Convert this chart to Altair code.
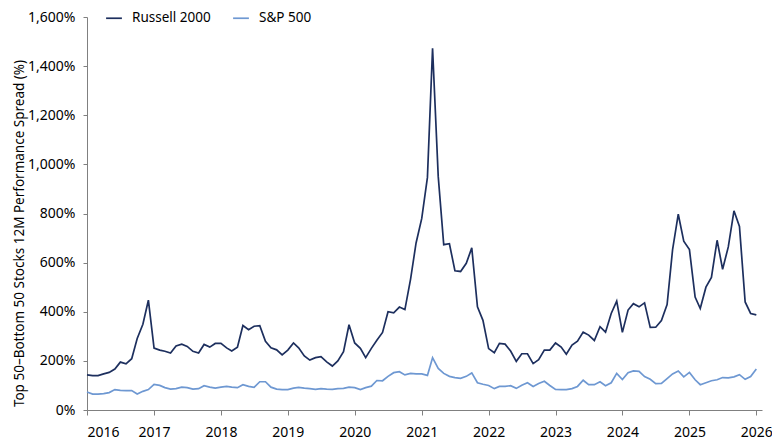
import altair as alt
import pandas as pd

months = pd.date_range("2016-01-01", "2026-01-01", freq="MS").strftime("%Y-%m-%dT00:00:00").tolist()

russell_2000 = [
    143, 140, 140, 147, 153, 167, 195, 188, 209, 291, 349, 447,
    252, 244, 239, 232, 261, 268, 259, 239, 232, 267, 256, 271,
    271, 253, 240, 256, 344, 327, 341, 343, 280, 253, 245, 224,
    244, 273, 253, 220, 203, 213, 217, 196, 179, 200, 237, 347,
    273, 251, 213, 251, 284, 316, 400, 396, 419, 409, 533, 680,
    780, 947, 1473, 950, 673, 677, 567, 564, 597, 660, 420, 365,
    250, 233, 271, 268, 240, 198, 229, 229, 189, 205, 244, 244,
    273, 256, 227, 264, 280, 317, 305, 283, 339, 317, 393, 443,
    316, 407, 433, 420, 436, 336, 337, 364, 429, 653, 797, 687,
    653, 460, 413, 500, 540, 691, 573, 664, 811, 747, 440, 393,
    387,
]

sp_500 = [
    73, 65, 65, 67, 71, 83, 80, 79, 79, 65, 76, 83,
    104, 100, 91, 85, 87, 93, 91, 85, 87, 99, 93, 89,
    93, 96, 93, 91, 103, 96, 92, 115, 115, 93, 85, 83,
    83, 89, 92, 89, 87, 84, 87, 85, 84, 87, 88, 93,
    91, 83, 91, 97, 120, 119, 137, 152, 156, 143, 149, 147,
    147, 141, 213, 169, 149, 137, 132, 129, 137, 151, 111, 105,
    100, 87, 96, 96, 99, 88, 101, 111, 96, 108, 117, 100,
    84, 83, 83, 87, 96, 121, 103, 103, 115, 99, 111, 149,
    124, 152, 159, 157, 136, 125, 107, 108, 128, 147, 159, 135,
    153, 123, 103, 111, 119, 123, 132, 131, 135, 144, 125, 136,
    167,
]

series_names = ["Russell 2000", "S&P 500"]
series_colors = ["#1d2f5e", "#6e98d2"]
y_ticks = [0, 200, 400, 600, 800, 1000, 1200, 1400, 1600]

rows = []
for m, v in zip(months, russell_2000):
    rows.append({"date": m, "value": v, "series": series_names[0]})
for m, v in zip(months, sp_500):
    rows.append({"date": m, "value": v, "series": series_names[1]})
df = pd.DataFrame(rows)

FONT = "Noto Sans"

chart = (
    alt.Chart(df)
    .mark_line(strokeWidth=1.7)
    .encode(
        x=alt.X(
            "date:T",
            title=None,
            scale=alt.Scale(
                domain=[
                    alt.DateTime(year=2016, month=1, date=1),
                    alt.DateTime(year=2026, month=2, date=1),
                ],
                nice=False,
            ),
            axis=alt.Axis(
                format="%Y",
                tickCount={"interval": "year", "step": 1},
                grid=False,
                domainColor="#808080",
                tickColor="#808080",
                tickSize=5,
                labelFontSize=14,
                labelColor="#000000",
                labelPadding=10,
                labelFont=FONT,
            ),
        ),
        y=alt.Y(
            "value:Q",
            title="Top 50\u2013Bottom 50 Stocks 12M Performance Spread (%)",
            scale=alt.Scale(domain=[0, 1600], nice=False),
            axis=alt.Axis(
                values=y_ticks,
                labelExpr="format(datum.value, ',') + '%'",
                grid=False,
                domainColor="#808080",
                tickColor="#808080",
                tickSize=4,
                labelFontSize=14,
                labelColor="#000000",
                labelPadding=8,
                labelFont=FONT,
                titleFont=FONT,
                titleFontSize=13.5,
                titleFontWeight="normal",
                titleColor="#000000",
                titlePadding=1,
                titleY=216,
            ),
        ),
        color=alt.Color(
            "series:N",
            scale=alt.Scale(domain=series_names, range=series_colors),
            sort=series_names,
            legend=alt.Legend(
                title=None,
                orient="none",
                direction="horizontal",
                legendX=18,
                legendY=-8,
                symbolType="stroke",
                symbolStrokeWidth=1.7,
                symbolSize=250,
                labelFontSize=13.5,
                labelFont=FONT,
                labelColor="#000000",
                labelOffset=9,
                columnPadding=18,
            ),
        ),
    )
    .properties(
        width=675,
        height=393,
        autosize=alt.AutoSizeParams(type="none"),
        padding={"left": 79, "top": 9, "right": 10, "bottom": 30},
        background="white",
    )
    .configure_view(stroke=None)
)

chart.save("out.html", embed_options={"renderer": "svg", "actions": False})
